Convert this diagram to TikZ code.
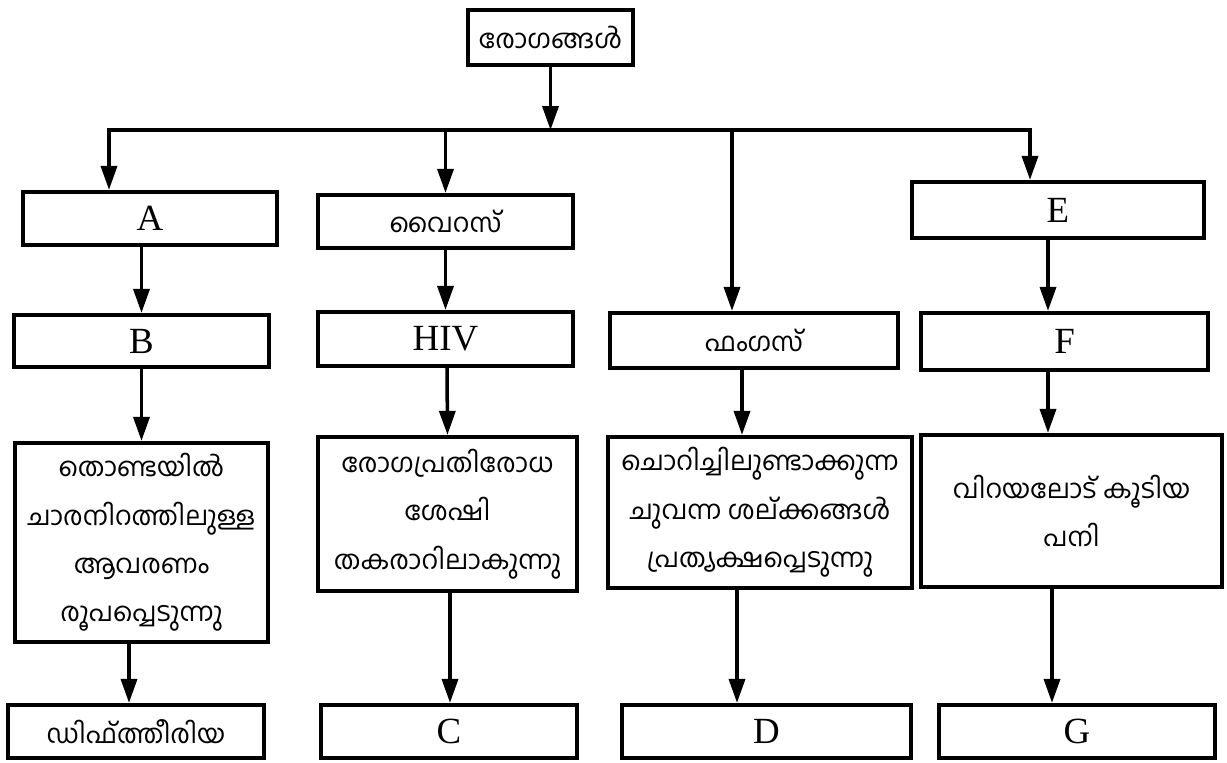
\documentclass[tikz,border=0pt]{standalone}
\usepackage{fontspec}
\setmainfont{Liberation Serif}
\newfontfamily\malfont[Script=Malayalam]{Hind Kochi}
\usetikzlibrary{arrows.meta,calc}

\newlength\px
\setlength\px{0.02cm}

\tikzset{
  box/.style={draw, rectangle, line width=2.4pt, inner sep=0pt,
    font=\fontsize{21}{24}\selectfont},
  mal/.style={font=\malfont\fontsize{15}{27.5}\selectfont, align=center},
  arr/.style={line width=2pt, -{Triangle[length=0.48cm,width=0.32cm]}},
}

\begin{document}
\begin{tikzpicture}[x=0.02cm, y=-0.02cm]
  \useasboundingbox (0,0) rectangle (1227,762);
  % top
  \node[box, mal, minimum width=165\px, minimum height=55\px] (root) at (550.5,37.5) {രോഗങ്ങൾ};
  \coordinate (busl) at (109,130);
  \coordinate (busr) at (1030,130);
  % first row
  \node[box, minimum width=254\px, minimum height=53\px] (a) at (150,218.5) {A};
  \node[box, mal, minimum width=255\px, minimum height=53\px] (vir) at (445.5,221.5) {വൈറസ്};
  \node[box, minimum width=292\px, minimum height=56\px] (e) at (1058,210) {E};
  % second row
  \node[box, minimum width=255\px, minimum height=52\px] (b) at (141.5,341) {B};
  \node[box, minimum width=255\px, minimum height=54\px] (hiv) at (445.5,339) {HIV};
  \node[box, mal, minimum width=288\px, minimum height=55\px] (fun) at (754,340.5) {ഫംഗസ്};
  \node[box, minimum width=287\px, minimum height=57\px] (f) at (1064.5,341.5) {F};
  % symptoms
  \node[box, mal, minimum width=253\px, minimum height=199\px] (t1) at (141.5,542.5)
    {തൊണ്ടയിൽ\\ചാരനിറത്തിലുള്ള\\ആവരണം\\രൂപപ്പെടുന്നു};
  \node[box, mal, minimum width=259\px, minimum height=154\px] (t2) at (447.5,514)
    {രോഗപ്രതിരോധ\\ശേഷി\\തകരാറിലാകുന്നു};
  \node[box, mal, minimum width=304\px, minimum height=151\px] (t3) at (760,512.5)
    {ചൊറിച്ചിലുണ്ടാക്കുന്ന\\ചുവന്ന ശല്ക്കങ്ങൾ\\പ്രത്യക്ഷപ്പെടുന്നു};
  \node[box, mal, minimum width=301\px, minimum height=152\px] (t4) at (1071.5,511)
    {വിറയലോട് കൂടിയ\\പനി};
  % bottom
  \node[box, mal, minimum width=256\px, minimum height=53\px] (dip) at (136,731.5) {ഡിഫ്ത്തീരിയ};
  \node[box, minimum width=256\px, minimum height=53\px] (c) at (449,731.5) {C};
  \node[box, minimum width=289\px, minimum height=53\px] (d) at (766.5,731.5) {D};
  \node[box, minimum width=276\px, minimum height=53\px] (g) at (1077,731.5) {G};

  \draw[arr] (root.south) -- (root.south |- busl);
  \draw[line width=2pt, line cap=rect] (busl) -- (busr);
  \draw[arr] (busl) -- (busl |- a.north);
  \draw[arr] (vir.north |- busl) -- (vir.north);
  \draw[arr] ([xshift=-22\px]fun.north |- busl) -- ([xshift=-22\px]fun.north);
  \draw[arr] (busr) -- (busr |- e.north);

  \draw[arr] (a.south -| b.north) -- (b.north);
  \draw[arr] (vir.south) -- (hiv.north);
  \draw[arr] ([xshift=-10\px]e.south) -- ([xshift=-16.5\px]f.north);

  \draw[arr] (b.south) -- (t1.north);
  \draw[arr] ([xshift=1.5\px]hiv.south) -- (t2.north);
  \draw[arr] ([xshift=-12\px]fun.south) -- ([xshift=-18\px]t3.north);
  \draw[arr] ([xshift=-16.5\px]f.south) -- ([xshift=-23.5\px]t4.north);

  \draw[arr] ([xshift=-12.5\px]t1.south) -- ([xshift=-7\px]dip.north);
  \draw[arr] ([xshift=2.5\px]t2.south) -- ([xshift=1\px]c.north);
  \draw[arr] ([xshift=-23\px]t3.south) -- ([xshift=-29.5\px]d.north);
  \draw[arr] ([xshift=-19.5\px]t4.south) -- ([xshift=-25\px]g.north);
\end{tikzpicture}
\end{document}
